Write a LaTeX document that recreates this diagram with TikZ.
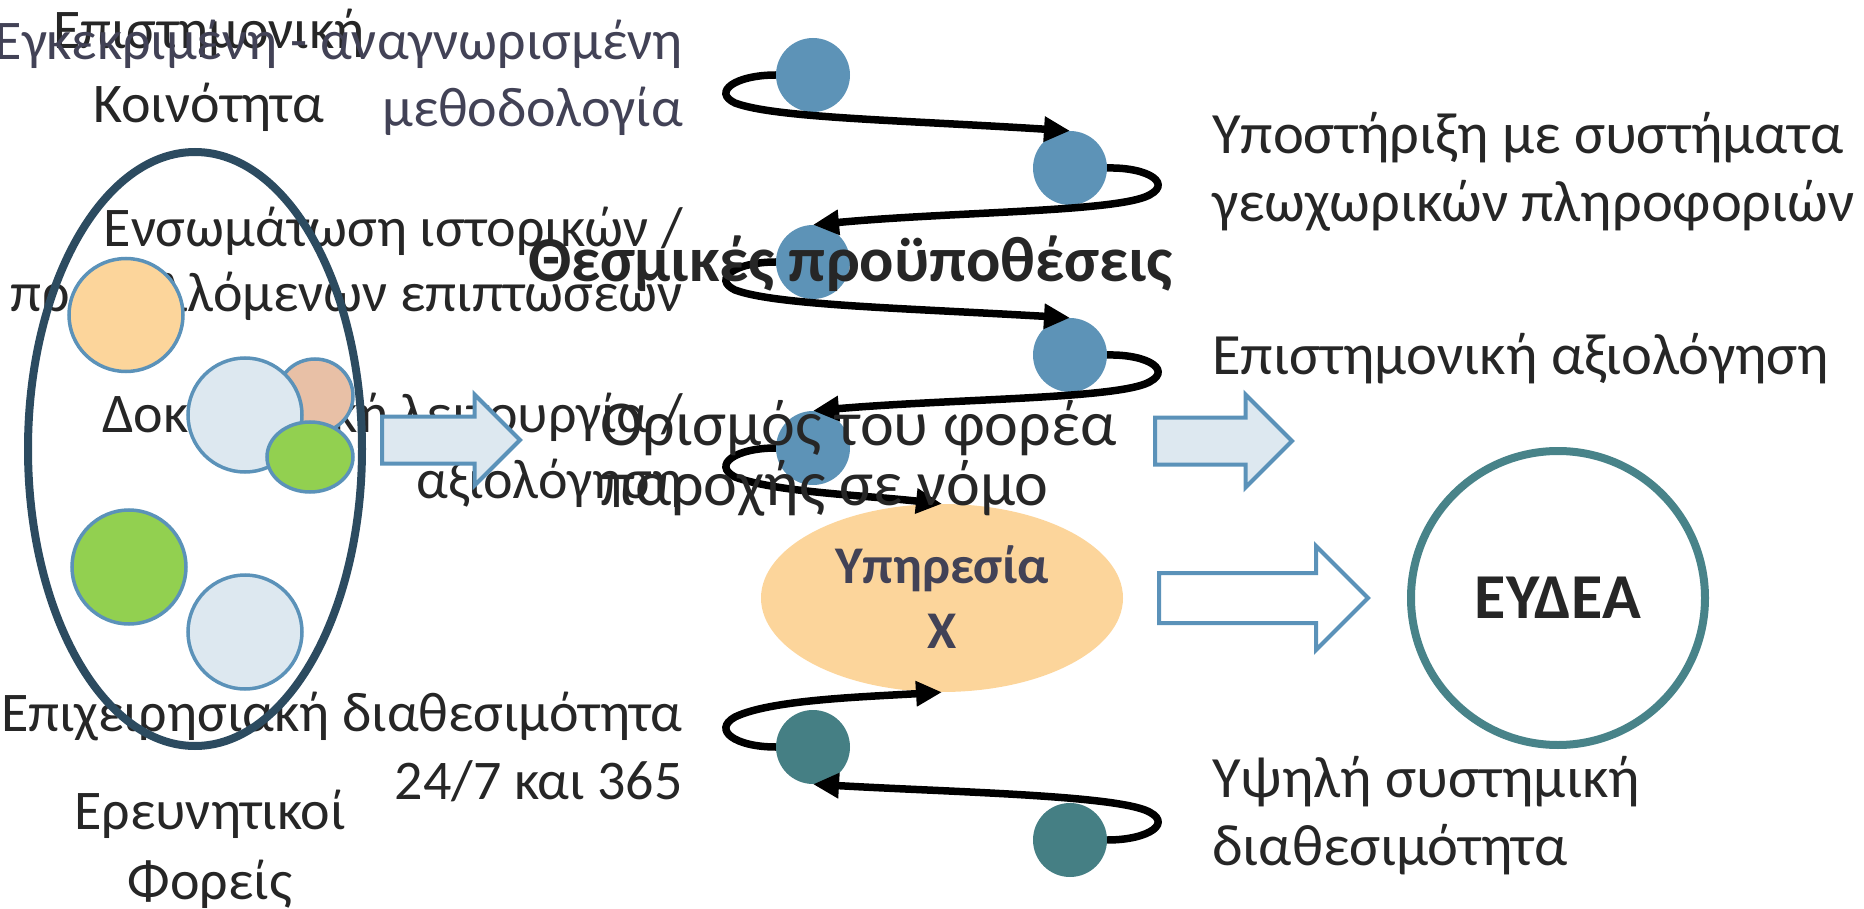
\documentclass[tikz,border=0pt]{standalone}
\usepackage{fontspec}
\setmainfont{Carlito}
\usetikzlibrary{shapes.geometric,shapes.arrows,arrows.meta}

\definecolor{inkdark}{RGB}{38,38,38}
\definecolor{inkslate}{RGB}{66,66,86}
\definecolor{ringnavy}{RGB}{44,75,96}
\definecolor{edgeblue}{RGB}{91,146,185}
\definecolor{dotblue}{RGB}{93,147,183}
\definecolor{dotteal}{RGB}{69,127,132}
\definecolor{ringteal}{RGB}{72,131,137}
\definecolor{fillorange}{RGB}{252,213,155}
\definecolor{fillpale}{RGB}{221,232,240}
\definecolor{fillpeach}{RGB}{232,192,166}
\definecolor{fillgreen}{RGB}{146,208,80}

\tikzset{
  label text/.style={inner sep=0pt, text=inkdark, font=\fontsize{56}{66}\selectfont},
  side text/.style={label text, align=left, anchor=base west, font=\fontsize{58.5}{68}\selectfont},
  blob/.style={ellipse, draw=edgeblue, line width=3.5pt, inner sep=0pt},
  dot/.style={circle, fill=dotblue, minimum size=74pt, inner sep=0pt},
  block arrow/.style={single arrow, draw=edgeblue, line width=4pt, fill=fillpale,
    single arrow tip angle=90, inner xsep=0pt, anchor=tail},
  loop arrow/.style={line width=7.5pt, -{Triangle[length=26pt,width=24pt]}},
}

\begin{document}
\begin{tikzpicture}[x=1pt,y=-1pt]
    \useasboundingbox (0,0) rectangle (1864,909);

    % Left-hand labels
    \node[label text, align=center, anchor=base, font=\fontsize{56}{74}\selectfont] (community) at (209,123) {Επιστημονική\\Κοινότητα};
    \node[label text, text=inkslate, align=right, anchor=base east, font=\fontsize{56}{67}\selectfont] (method) at (683,127) {Εγκεκριμένη - αναγνωρισμένη\\μεθοδολογία};
    \node[label text, align=right, anchor=base east, font=\fontsize{56}{65}\selectfont] (history) at (683,312) {Ενσωμάτωση ιστορικών /\\προβαλλόμενων επιπτωσεων};
    \node[label text, align=right, anchor=base east] (trial) at (683,498) {Δοκιμαστική λειτουργία /\\αξιολόγηση};
    \node[label text, align=right, anchor=base east, font=\fontsize{56}{68}\selectfont] (uptime) at (683,799) {Επιχειρησιακή διαθεσιμότητα\\24/7 και 365};
    \node[label text, align=center, anchor=base, font=\fontsize{56}{70}\selectfont] (institutes) at (210,899) {Ερευνητικοί\\Φορείς};

    % Research bodies
    \node[ellipse, draw=ringnavy, line width=8pt, minimum width=334pt, minimum height=594pt] (ring) at (195,449) {};
    \node[blob, fill=fillorange, minimum width=114pt, minimum height=113pt] (orangeblob) at (126,315) {};
    \node[blob, fill=fillpeach, minimum width=76pt, minimum height=74pt] (peachblob) at (315,396) {};
    \node[blob, fill=fillpale, minimum width=114pt, minimum height=114pt] (paleblob) at (245,415) {};
    \node[blob, fill=fillgreen, minimum width=86pt, minimum height=70pt] (smallgreen) at (310,457) {};
    \node[blob, fill=fillgreen, minimum width=114pt, minimum height=114pt] (biggreen) at (129,567) {};
    \node[blob, fill=fillpale, minimum width=114pt, minimum height=114pt] (paleblobb) at (245,632) {};

    % Block arrows
    \node[block arrow, minimum height=138pt, inner ysep=21.5pt, single arrow head extend=22pt] (toservice) at (380,440) {};
    \node[block arrow, minimum height=137pt, inner ysep=21.5pt, single arrow head extend=23pt] (toreview) at (1153,441) {};
    \node[block arrow, fill=white, minimum height=209pt, inner ysep=23pt, single arrow head extend=27pt] (tonational) at (1157,598) {};

    % Service and national body
    \node[ellipse, fill=fillorange, minimum width=362pt, minimum height=188pt] (service) at (942,598) {};
    \node[circle, draw=ringteal, line width=8pt, minimum size=294pt] (eydea) at (1558,598) {};

    % Steps
    \node[dot] (b1) at (813,75) {};
    \node[dot] (b2) at (1070,168) {};
    \node[dot] (b3) at (813,262) {};
    \node[dot] (b4) at (1070,355) {};
    \node[dot] (b5) at (813,448) {};
    \node[dot, fill=dotteal] (t1) at (813,747) {};
    \node[dot, fill=dotteal] (t2) at (1070,840) {};

    % Winding arrows
    \draw[loop arrow] (b1.west) .. controls (735,75) and (712,92) .. (735,103) .. controls (775,118) and (900,120) .. (b2.north);
    \draw[loop arrow] (b2.east) .. controls (1150,167) and (1175,185) .. (1145,197) .. controls (1105,212) and (950,212) .. (b3.north);
    \draw[loop arrow] (b3.west) .. controls (735,262) and (712,279) .. (735,290) .. controls (775,305) and (900,308) .. (b4.north);
    \draw[loop arrow] (b4.east) .. controls (1150,354) and (1175,372) .. (1145,384) .. controls (1105,399) and (950,399) .. (b5.north);
    \draw[loop arrow] (b5.west) .. controls (735,448) and (712,465) .. (735,477) .. controls (775,492) and (860,495) .. (service.north);
    \draw[loop arrow] (t1.west) .. controls (735,747) and (712,730) .. (735,717) .. controls (770,700) and (860,697) .. (service.south);
    \draw[loop arrow] (t2.east) .. controls (1150,840) and (1175,822) .. (1145,810) .. controls (1105,795) and (950,792) .. (t1.south);

    % Middle and right labels
    \node[label text, font=\bfseries\fontsize{64}{66}\selectfont, anchor=base east] (legal) at (1173,282) {Θεσμικές προϋποθέσεις};
    \node[label text, align=left, anchor=base west, font=\fontsize{64}{60}\selectfont] (provider) at (600,505) {Ορισμός του φορέα\\παροχής σε νόμο};
    \node[side text] (gis) at (1212,222) {Υποστήριξη με συστήματα\\γεωχωρικών πληροφοριών};
    \node[side text] (review) at (1212,374) {Επιστημονική αξιολόγηση};
    \node[side text] (availability) at (1212,865) {Υψηλή συστημική\\διαθεσιμότητα};
    \node[label text, text=inkslate, align=center, anchor=base, font=\bfseries\fontsize{53}{65}\selectfont] (servicename) at (942,648) {Υπηρεσία\\Χ};
    \node[label text, font=\bfseries\fontsize{64}{66}\selectfont, anchor=base] (eydeaname) at (1558,618) {ΕΥΔΕΑ};
\end{tikzpicture}
\end{document}
